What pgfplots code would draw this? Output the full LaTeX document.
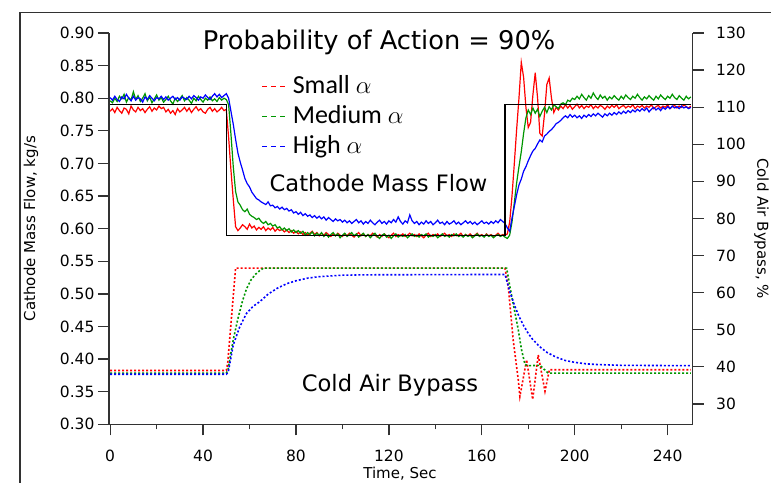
\documentclass[border=0pt]{standalone}
\usepackage{pgfplots}
\pgfplotsset{compat=1.18}
\usepackage{pgfplotstable}
\usepackage{fontspec}
\setmainfont{DejaVu Sans}
\newfontfamily\legfont{Carlito}
\definecolor{cRed}{RGB}{255,0,0}
\definecolor{cGreen}{RGB}{0,150,0}
\definecolor{cBlue}{RGB}{0,0,255}
\definecolor{axgray}{RGB}{50,50,50}

%% cathode mass flow, kg/s (left axis)
\pgfplotstableread{
t small medium high
0 0.780 0.796 0.801
1 0.784 0.793 0.797
2 0.778 0.800 0.803
3 0.786 0.795 0.798
4 0.781 0.803 0.795
5 0.777 0.799 0.802
6 0.785 0.806 0.799
7 0.783 0.794 0.806
8 0.776 0.801 0.800
9 0.788 0.797 0.796
10 0.782 0.810 0.803
11 0.779 0.798 0.797
12 0.786 0.804 0.801
13 0.781 0.795 0.799
14 0.784 0.800 0.794
15 0.778 0.807 0.802
16 0.783 0.796 0.798
17 0.787 0.802 0.804
18 0.780 0.793 0.800
19 0.785 0.799 0.796
20 0.782 0.805 0.801
21 0.788 0.797 0.799
22 0.784 0.801 0.803
23 0.786 0.794 0.798
24 0.779 0.798 0.802
25 0.783 0.803 0.797
26 0.777 0.796 0.800
27 0.781 0.791 0.803
28 0.775 0.800 0.798
29 0.784 0.795 0.801
30 0.779 0.799 0.797
31 0.782 0.804 0.802
32 0.786 0.796 0.800
33 0.780 0.801 0.798
34 0.785 0.797 0.803
35 0.778 0.792 0.799
36 0.783 0.800 0.804
37 0.787 0.796 0.801
38 0.781 0.803 0.797
39 0.784 0.798 0.802
40 0.779 0.794 0.800
41 0.777 0.800 0.805
42 0.783 0.797 0.801
43 0.786 0.802 0.798
44 0.780 0.796 0.803
45 0.784 0.799 0.807
46 0.779 0.795 0.802
47 0.782 0.801 0.806
48 0.786 0.797 0.801
49 0.781 0.800 0.804
50 0.783 0.798 0.807
51 0.740 0.790 0.800
52 0.690 0.745 0.780
53 0.645 0.695 0.760
54 0.603 0.657 0.737
55 0.597 0.641 0.716
56 0.601 0.636 0.702
57 0.606 0.629 0.690
58 0.603 0.626 0.677
59 0.599 0.630 0.669
60 0.607 0.622 0.664
61 0.601 0.619 0.656
62 0.604 0.617 0.651
63 0.598 0.614 0.646
64 0.602 0.616 0.644
65 0.599 0.611 0.641
66 0.603 0.608 0.639
67 0.597 0.611 0.637
68 0.601 0.606 0.641
69 0.598 0.608 0.635
70 0.602 0.604 0.636
71 0.596 0.606 0.632
72 0.600 0.601 0.634
73 0.597 0.603 0.630
74 0.599 0.598 0.633
75 0.595 0.601 0.629
76 0.598 0.597 0.631
77 0.594 0.600 0.627
78 0.597 0.595 0.629
79 0.593 0.598 0.624
80 0.596 0.594 0.626
81 0.592 0.597 0.622
82 0.595 0.593 0.625
83 0.591 0.596 0.620
84 0.594 0.590 0.623
85 0.590 0.594 0.619
86 0.593 0.591 0.621
87 0.596 0.595 0.617
88 0.591 0.589 0.620
89 0.594 0.593 0.616
90 0.589 0.590 0.619
91 0.593 0.594 0.615
92 0.590 0.588 0.618
93 0.594 0.592 0.613
94 0.591 0.587 0.617
95 0.588 0.591 0.614
96 0.592 0.594 0.611
97 0.589 0.589 0.615
98 0.593 0.592 0.612
99 0.590 0.586 0.614
100 0.588 0.590 0.610
101 0.592 0.593 0.613
102 0.589 0.588 0.609
103 0.593 0.591 0.612
104 0.590 0.594 0.608
105 0.587 0.589 0.611
106 0.591 0.592 0.614
107 0.594 0.587 0.609
108 0.589 0.590 0.612
109 0.592 0.593 0.607
110 0.588 0.588 0.611
111 0.591 0.591 0.608
112 0.589 0.586 0.613
113 0.593 0.590 0.609
114 0.590 0.593 0.606
115 0.587 0.588 0.610
116 0.591 0.585 0.613
117 0.588 0.590 0.608
118 0.592 0.592 0.611
119 0.589 0.587 0.607
120 0.586 0.590 0.612
121 0.590 0.585 0.609
122 0.593 0.589 0.614
123 0.588 0.592 0.610
124 0.591 0.587 0.618
125 0.589 0.590 0.611
126 0.592 0.588 0.607
127 0.588 0.591 0.612
128 0.590 0.586 0.609
129 0.593 0.589 0.621
130 0.589 0.592 0.612
131 0.591 0.588 0.608
132 0.588 0.590 0.611
133 0.592 0.587 0.606
134 0.589 0.591 0.610
135 0.586 0.589 0.607
136 0.590 0.592 0.612
137 0.593 0.587 0.608
138 0.588 0.590 0.611
139 0.591 0.588 0.606
140 0.589 0.591 0.609
141 0.592 0.586 0.613
142 0.588 0.589 0.608
143 0.590 0.592 0.610
144 0.593 0.588 0.606
145 0.589 0.590 0.611
146 0.591 0.587 0.607
147 0.588 0.591 0.609
148 0.592 0.589 0.612
149 0.589 0.592 0.607
150 0.590 0.588 0.610
151 0.593 0.590 0.606
152 0.588 0.587 0.609
153 0.591 0.591 0.612
154 0.589 0.588 0.608
155 0.592 0.590 0.611
156 0.588 0.586 0.607
157 0.590 0.589 0.610
158 0.593 0.592 0.606
159 0.589 0.588 0.609
160 0.591 0.590 0.612
161 0.588 0.587 0.608
162 0.592 0.591 0.610
163 0.589 0.588 0.607
164 0.591 0.590 0.611
165 0.588 0.586 0.608
166 0.590 0.589 0.612
167 0.593 0.591 0.609
168 0.589 0.588 0.614
169 0.591 0.590 0.611
170 0.590 0.587 0.608
171 0.592 0.585 0.601
172 0.610 0.590 0.596
173 0.650 0.610 0.616
174 0.700 0.640 0.634
175 0.752 0.670 0.652
176 0.800 0.695 0.667
177 0.855 0.718 0.676
178 0.832 0.746 0.688
179 0.786 0.770 0.695
180 0.755 0.782 0.704
181 0.763 0.775 0.712
182 0.805 0.785 0.719
183 0.839 0.777 0.723
184 0.801 0.783 0.730
185 0.746 0.772 0.736
186 0.742 0.780 0.733
187 0.776 0.786 0.742
188 0.821 0.778 0.745
189 0.831 0.787 0.749
190 0.800 0.782 0.752
191 0.778 0.790 0.756
192 0.786 0.787 0.761
193 0.782 0.784 0.763
194 0.788 0.791 0.766
195 0.784 0.793 0.770
196 0.790 0.790 0.773
197 0.785 0.797 0.770
198 0.789 0.795 0.775
199 0.783 0.800 0.771
200 0.787 0.798 0.774
201 0.791 0.803 0.770
202 0.785 0.799 0.773
203 0.789 0.806 0.769
204 0.784 0.801 0.774
205 0.788 0.797 0.771
206 0.786 0.804 0.775
207 0.790 0.800 0.772
208 0.784 0.808 0.776
209 0.788 0.802 0.773
210 0.785 0.798 0.777
211 0.789 0.805 0.774
212 0.787 0.800 0.771
213 0.783 0.803 0.776
214 0.788 0.797 0.773
215 0.785 0.802 0.777
216 0.789 0.799 0.774
217 0.786 0.804 0.778
218 0.790 0.800 0.775
219 0.784 0.797 0.779
220 0.787 0.803 0.776
221 0.789 0.799 0.780
222 0.785 0.805 0.777
223 0.788 0.801 0.781
224 0.786 0.798 0.778
225 0.790 0.803 0.782
226 0.784 0.800 0.779
227 0.788 0.806 0.783
228 0.786 0.801 0.780
229 0.789 0.797 0.784
230 0.785 0.802 0.781
231 0.788 0.799 0.785
232 0.786 0.804 0.779
233 0.790 0.800 0.783
234 0.784 0.797 0.786
235 0.787 0.803 0.782
236 0.789 0.799 0.785
237 0.785 0.805 0.781
238 0.788 0.801 0.786
239 0.786 0.798 0.783
240 0.790 0.803 0.787
241 0.784 0.800 0.784
242 0.787 0.806 0.788
243 0.789 0.801 0.785
244 0.785 0.798 0.787
245 0.788 0.804 0.784
246 0.786 0.800 0.788
247 0.790 0.797 0.785
248 0.787 0.803 0.787
249 0.785 0.799 0.784
250 0.788 0.802 0.786
}\massflow

%% cold air bypass, % (right axis)
\pgfplotstableread{
t v
0 39.0
50 39.0
50.6 41.0
54 66.6
170 66.6
171.4 61.6
173.5 47.3
175.7 36.5
176.4 32.0
179.3 41.9
181.9 31.2
184.3 43.2
187.2 33.4
189.1 39.2
250 39.2
}\bypassSmall
\pgfplotstableread{
t v
0 38.3
50 38.3
50.7 39.0
51.5 42.0
53 47.3
55 53.0
57 57.8
58.7 61.0
60.5 63.3
62.5 64.9
64.5 66.0
66 66.6
170.7 66.6
172.1 61.6
173.5 57.1
175.7 50.0
177.1 44.6
178.6 40.6
180 40.3
185 40.4
188.6 38.3
250 38.3
}\bypassMedium
\pgfplotstableread{
t v
0 38.0
50 38.0
50.8 38.5
53 45.9
55.8 50.8
58.7 54.4
61.5 56.3
64.5 57.6
68 59.6
72 61.2
76 62.4
80 63.2
85 63.9
90 64.3
95 64.5
100 64.7
110 64.8
170 64.9
172 60.4
174 56.7
176 53.6
178 51.1
180 49.0
182 47.3
185 45.4
188 43.9
192 42.6
196 41.7
200 41.2
205 40.8
210 40.6
220 40.4
250 40.3
}\bypassHigh

\begin{document}
\begin{tikzpicture}
\pgfplotsset{
  frame/.style={
    scale only axis, width=583.7pt, height=391.3pt,
    at={(109pt,57.7pt)}, anchor=south west,
    xmin=-0.5, xmax=250.8,
    axis line style={axgray, line width=1.3pt},
    every tick/.style={axgray, line width=1.3pt},
    tick align=outside,
    major tick length=11pt, minor tick length=5pt,
    /pgf/number format/assume math mode=true,
    tick label style={font=\fontsize{15.5}{18}\selectfont},
    label style={font=\fontsize{15}{18}\selectfont},
    clip mode=individual,
  },
  massline/.style={line width=1.2pt, forget plot},
  dotline/.style={line width=1.6pt, dash pattern=on 2pt off 2pt, forget plot},
}

%% left axis: mass flow
\begin{axis}[frame,
  axis x line*=bottom, axis y line*=left,
  ymin=0.30, ymax=0.90,
  ytick={0.30,0.35,0.40,0.45,0.50,0.55,0.60,0.65,0.70,0.75,0.80,0.85,0.90},
  yticklabel style={/pgf/number format/.cd, fixed, fixed zerofill, precision=2},
  xtick={0,40,80,120,160,200,240},
  xticklabel style={yshift=-11pt},
  minor x tick num=1,
  xlabel={Time, Sec},
  xlabel style={at={(axis description cs:0.4985,-0.127)}, anchor=center},
  ylabel={Cathode Mass Flow, kg/s},
  ylabel style={at={(axis description cs:-0.1336,0.5)}, anchor=center},
  legend image code/.code={\draw[#1] (0pt,0pt) -- (23pt,0pt);},
  legend style={at={(axis description cs:0.2616,0.897)}, anchor=north west,
    draw=none, fill=none, inner sep=0pt, column sep=6.7pt, row sep=4pt,
    font=\legfont\fontsize{26}{30}\selectfont,
    nodes={inner sep=0pt, text height=20pt, text depth=6pt}},
  legend cell align=left,
]
\addplot[massline, cRed] table[x=t, y=small] {\massflow};
\addplot[massline, cGreen] table[x=t, y=medium] {\massflow};
\addplot[massline, cBlue] table[x=t, y=high] {\massflow};
%% set point
\addplot[line width=1.1pt, black, forget plot] coordinates {
  (0,0.79) (50,0.79) (50,0.59) (170,0.59) (170,0.79) (250,0.79)};

\addlegendimage{cRed, line width=1.2pt, dash pattern=on 5pt off 4pt}
\addlegendentry{Small $\alpha$}
\addlegendimage{cGreen, line width=1.2pt, dash pattern=on 5pt off 4pt}
\addlegendentry{Medium $\alpha$}
\addlegendimage{cBlue, line width=1.2pt, dash pattern=on 5pt off 4pt}
\addlegendentry{High $\alpha$}

\node[anchor=base, font=\fontsize{25.7}{30}\selectfont]
  at (axis description cs:0.4626,0.9566) {Probability of Action = 90\%};
\node[anchor=base, font=\fontsize{22.6}{27}\selectfont]
  at (axis description cs:0.4617,0.5944) {Cathode Mass Flow};
\node[anchor=base, font=\fontsize{22.6}{27}\selectfont]
  at (axis description cs:0.4814,0.0833) {Cold Air Bypass};
\end{axis}

%% right axis: cold air bypass
\begin{axis}[frame,
  axis x line=none, axis y line*=right,
  ymin=24.5, ymax=130,
  ytick={30,40,50,60,70,80,90,100,110,120,130},
  yticklabel style={xshift=9pt},
  ylabel={Cold Air Bypass, \%},
  ylabel style={at={(axis description cs:1.118,0.5)}, anchor=center, rotate=180},
]
\addplot[dotline, cRed] table[x=t, y=v] {\bypassSmall};
\addplot[dotline, cGreen] table[x=t, y=v] {\bypassMedium};
\addplot[dotline, cBlue] table[x=t, y=v] {\bypassHigh};
\end{axis}

%% outer frame, partly cut by the page edge
\draw[axgray, line width=1.3pt] (20pt,-20pt) -- (20pt,469.7pt) -- (800pt,469.7pt);

\pgfresetboundingbox
\path[use as bounding box] (0pt,0pt) rectangle (771pt,482pt);
\end{tikzpicture}
\end{document}
